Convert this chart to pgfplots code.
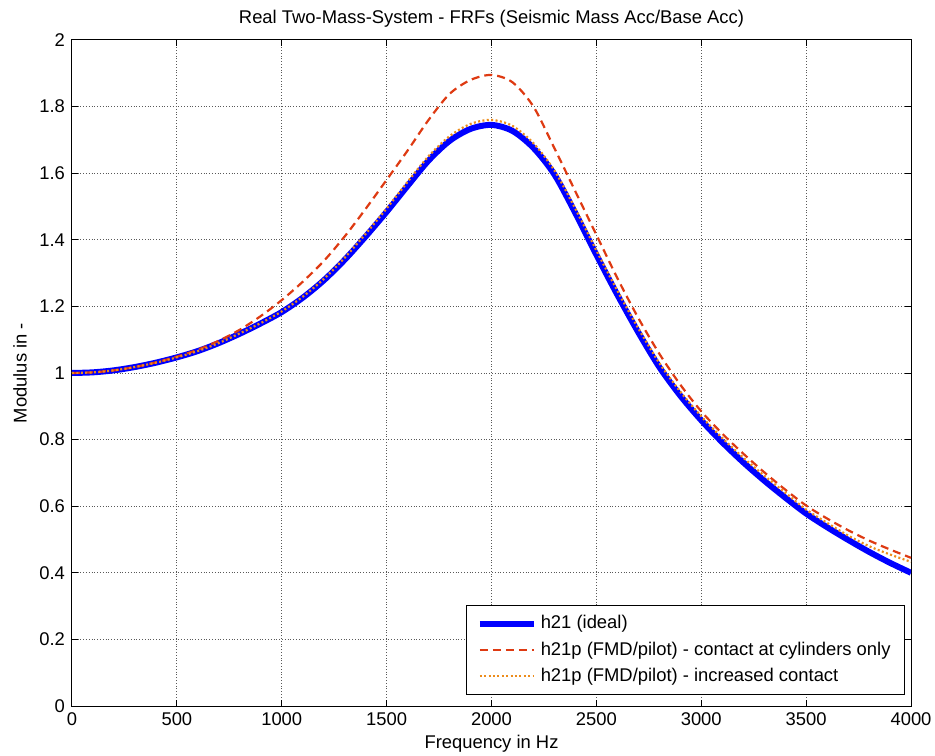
\documentclass[border=0pt]{standalone}
\usepackage{pgfplots}
\pgfplotsset{compat=1.18}
\usepackage{fontspec}
\setmainfont{Liberation Sans}
\definecolor{mred}{RGB}{222,58,18}
\definecolor{morange}{RGB}{236,140,28}
\begin{document}
\begin{tikzpicture}
\begin{axis}[
  at={(0,0)}, anchor=south west,
  scale only axis, width=419.5pt, height=333pt,
  xmin=0, xmax=4000, ymin=0, ymax=2,
  xtick={0,500,...,4000}, ytick={0,0.2,...,2.01},
  /pgf/number format/1000 sep={},
  /pgf/number format/assume math mode=true,
  tick align=inside, major tick length=3pt,
  xtick pos=both, ytick pos=both,
  grid=major,
  major grid style={densely dotted, gray!70!black, line width=0.5pt},
  axis line style={black, line width=0.5pt},
  tick style={black, line width=0.5pt},
  font=\fontsize{9.2}{11}\selectfont,
  ticklabel style={font=\fontsize{9.2}{11}\selectfont},
  title={Real Two-Mass-System - FRFs (Seismic Mass Acc/Base Acc)},
  title style={at={([yshift=4.5pt]axis description cs:0.5,1)}, anchor=center},
  xlabel={Frequency in Hz}, ylabel={Modulus in -},
  xlabel style={at={([yshift=-19pt]axis description cs:0.5,0)}, anchor=center},
  ylabel style={at={([xshift=-26pt]axis description cs:0,0.5)}, anchor=center},
  legend cell align=left,
  legend style={at={(rel axis cs:1,0)}, anchor=south east, xshift=-3pt, yshift=5.5pt,
    draw=black, line width=0.5pt, font=\fontsize{9.2}{11}\selectfont,
    row sep=1pt, inner xsep=5pt, inner ysep=3pt},
  legend image code/.code={\draw[#1] (0cm,0cm) -- (27pt,0cm);},
]
\addplot[blue, line width=3pt, smooth, line join=round] coordinates {
(0,1.000) (100,1.002) (200,1.008) (300,1.018) (400,1.031) (500,1.047) (600,1.066) (700,1.090) (800,1.118) (900,1.149) (1000,1.183)
(1100,1.226) (1200,1.278) (1300,1.340) (1400,1.410) (1500,1.484) (1600,1.562) (1700,1.638) (1800,1.697) (1900,1.733) (2000,1.745)
(2100,1.727) (2200,1.676) (2300,1.596) (2400,1.480) (2500,1.355) (2600,1.235) (2700,1.122) (2800,1.018) (2900,0.932) (3000,0.858)
(3100,0.792) (3200,0.732) (3300,0.677) (3400,0.626) (3500,0.578) (3600,0.537) (3700,0.499) (3800,0.463) (3900,0.430) (4000,0.400)
};
\addlegendentry{h21 (ideal)}
\addplot[mred, line width=1.1pt, dash pattern=on 4pt off 2.5pt, smooth] coordinates {
(0,1.000) (100,1.002) (200,1.008) (300,1.018) (400,1.032) (500,1.049) (600,1.070) (700,1.097) (800,1.130) (900,1.171) (1000,1.219)
(1100,1.274) (1200,1.336) (1300,1.410) (1400,1.493) (1500,1.580) (1600,1.668) (1700,1.760) (1800,1.838) (1900,1.880) (2000,1.895)
(2100,1.873) (2200,1.800) (2300,1.675) (2400,1.545) (2500,1.415) (2600,1.285) (2700,1.165) (2800,1.058) (2900,0.965) (3000,0.885)
(3100,0.818) (3200,0.758) (3300,0.702) (3400,0.650) (3500,0.602) (3600,0.563) (3700,0.528) (3800,0.497) (3900,0.470) (4000,0.445)
};
\addlegendentry{h21p (FMD/pilot) - contact at cylinders only}
\addplot[morange, line width=1.1pt, dash pattern=on 1pt off 1.2pt, smooth] coordinates {
(0,1.000) (100,1.002) (200,1.008) (300,1.018) (400,1.031) (500,1.047) (600,1.066) (700,1.090) (800,1.119) (900,1.150) (1000,1.185)
(1100,1.229) (1200,1.282) (1300,1.346) (1400,1.418) (1500,1.494) (1600,1.574) (1700,1.651) (1800,1.711) (1900,1.748) (2000,1.760)
(2100,1.742) (2200,1.690) (2300,1.608) (2400,1.493) (2500,1.368) (2600,1.247) (2700,1.134) (2800,1.030) (2900,0.944) (3000,0.870)
(3100,0.805) (3200,0.746) (3300,0.692) (3400,0.641) (3500,0.590) (3600,0.550) (3700,0.512) (3800,0.480) (3900,0.455) (4000,0.433)
};
\addlegendentry{h21p (FMD/pilot) - increased contact}
\end{axis}
\pgfresetboundingbox
\path[use as bounding box] (-36pt,-24.5pt) rectangle (431.5pt,353pt);
\end{tikzpicture}
\end{document}
